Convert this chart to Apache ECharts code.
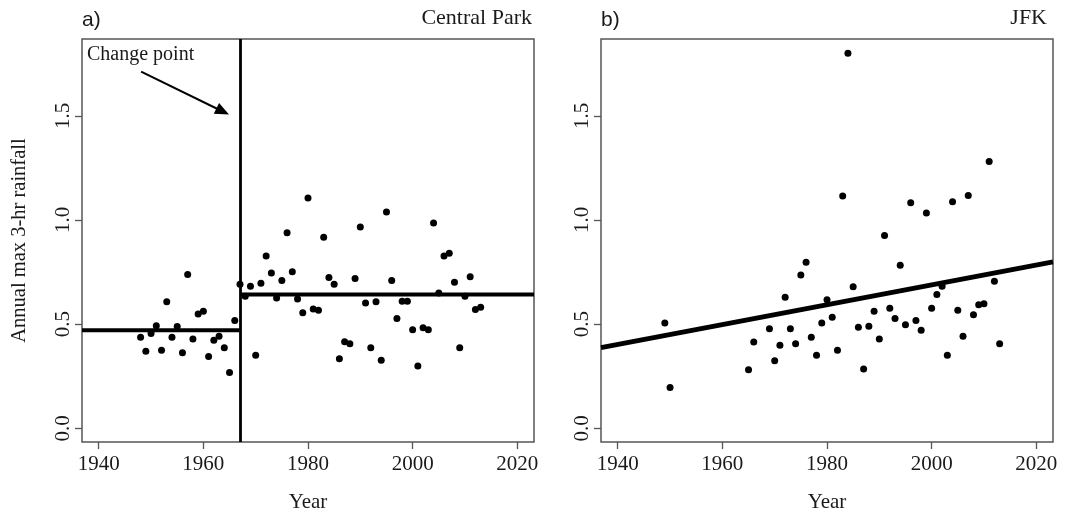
<!DOCTYPE html>
<html>
<head>
<meta charset="utf-8">
<script src="https://cdn.jsdelivr.net/npm/echarts@6/dist/echarts.min.js"></script>
<style>html,body{margin:0;padding:0;background:#fff}#c{width:1066px;height:514px}</style>
</head>
<body>
<div id="c"></div>
<script>
// ---- data ----
const cpYears = [1948,1949,1950,1951,1952,1953,1954,1955,1956,1957,1958,1959,1960,1961,1962,1963,1964,1965,1966,1967,1968,1969,1970,1971,1972,1973,1974,1975,1976,1977,1978,1979,1980,1981,1982,1983,1984,1985,1986,1987,1988,1989,1990,1991,1992,1993,1994,1995,1996,1997,1998,1999,2000,2001,2002,2003,2004,2005,2006,2007,2008,2009,2010,2011,2012,2013];
const cpValues = [0.437,0.370,0.455,0.492,0.375,0.607,0.437,0.489,0.363,0.738,0.428,0.548,0.562,0.344,0.422,0.442,0.387,0.268,0.517,0.691,0.634,0.682,0.351,0.696,0.827,0.746,0.626,0.709,0.939,0.752,0.621,0.554,1.105,0.572,0.567,0.917,0.724,0.691,0.334,0.415,0.406,0.719,0.966,0.602,0.387,0.607,0.326,1.038,0.709,0.527,0.610,0.610,0.473,0.299,0.482,0.473,0.986,0.650,0.827,0.840,0.701,0.387,0.634,0.728,0.570,0.581];
const jfkYears = [1949,1950,1965,1966,1969,1970,1971,1972,1973,1974,1975,1976,1977,1978,1979,1980,1981,1982,1983,1984,1985,1986,1987,1988,1989,1990,1991,1992,1993,1994,1995,1996,1997,1998,1999,2000,2001,2002,2003,2004,2005,2006,2007,2008,2009,2010,2011,2012,2013];
const jfkValues = [0.505,0.196,0.281,0.414,0.478,0.324,0.398,0.629,0.478,0.406,0.736,0.797,0.437,0.351,0.505,0.617,0.533,0.374,1.115,1.800,0.679,0.485,0.284,0.490,0.562,0.428,0.926,0.576,0.527,0.783,0.497,1.083,0.517,0.470,1.034,0.576,0.642,0.682,0.351,1.088,0.567,0.442,1.118,0.545,0.593,0.598,1.281,0.706,0.406];
const changeYear = 1967;
const meanBefore = 0.470;
const meanAfter = 0.642;
const xLimits = [1936.8, 2023.2];
const yLimits = [-0.066, 1.869];
const jfkTrend = [[1936.8, 0.387], [2023.2, 0.799]];
const arrowPath = [[1948.1, 1.712], [1963.7, 1.521]];
const xTicks = [1940, 1960, 1980, 2000, 2020];
const xTickLabels = ['1940', '1960', '1980', '2000', '2020'];
const yTicks = [0, 0.5, 1.0, 1.5];
const yTickLabels = ['0.0', '0.5', '1.0', '1.5'];
const panelTags = ['a)', 'b)'];
const panelNames = ['Central Park', 'JFK'];

// ---- chart ----
const SERIF = '"Liberation Serif", "DejaVu Serif", serif';
const SANS = '"Liberation Sans", Arial, sans-serif';
const AX = '#555';
const TXT = '#1a1a1a';

function xAx(i) {
  return {
    gridIndex: i, type: 'value', min: xLimits[0], max: xLimits[1], position: 'bottom',
    axisLine: { show: false, onZero: false },
    axisTick: { show: true, inside: false, length: 7, lineStyle: { color: AX, width: 1.3 }, customValues: xTicks },
    axisLabel: { customValues: xTicks, margin: 12, fontFamily: SERIF, fontSize: 21, color: TXT,
      formatter: v => xTickLabels[xTicks.indexOf(v)] },
    splitLine: { show: false },
    name: 'Year', nameLocation: 'middle', nameGap: 50,
    nameTextStyle: { fontFamily: SERIF, fontSize: 21, color: TXT }
  };
}
function yAx(i, withName) {
  return {
    gridIndex: i, type: 'value', min: yLimits[0], max: yLimits[1], position: 'left',
    axisLine: { show: false, onZero: false },
    axisTick: { show: true, inside: false, length: 7, lineStyle: { color: AX, width: 1.3 }, customValues: yTicks },
    axisLabel: { customValues: yTicks, rotate: 90, margin: 8, fontFamily: SERIF, fontSize: 21, color: TXT,
      formatter: v => yTickLabels[yTicks.indexOf(v)] },
    splitLine: { show: false },
    name: withName ? 'Annual max 3-hr rainfall' : '', nameLocation: 'middle', nameGap: 52,
    nameTextStyle: { fontFamily: SERIF, fontSize: 20.5, color: TXT }
  };
}

const chart = echarts.init(document.getElementById('c'), null, { renderer: 'canvas' });
chart.setOption({
  backgroundColor: '#fff',
  animation: false,
  title: [
    { text: panelTags[0], left: 82, top: 10, padding: 0, textStyle: { fontFamily: SANS, fontSize: 21, fontWeight: 'normal', color: TXT } },
    { text: panelNames[0], right: 534, top: 7, padding: 0, textStyle: { fontFamily: SERIF, fontSize: 22, fontWeight: 'normal', color: TXT } },
    { text: panelTags[1], left: 601, top: 10, padding: 0, textStyle: { fontFamily: SANS, fontSize: 21, fontWeight: 'normal', color: TXT } },
    { text: panelNames[1], right: 19, top: 7, padding: 0, textStyle: { fontFamily: SERIF, fontSize: 22, fontWeight: 'normal', color: TXT } },
    { text: 'Change point', left: 87, top: 45, padding: 0, textStyle: { fontFamily: SERIF, fontSize: 20, fontWeight: 'normal', color: TXT } }
  ],
  grid: [
    { left: 82, top: 39, width: 452, height: 403, show: true, borderColor: AX, borderWidth: 1.5, backgroundColor: 'transparent', containLabel: false, outerBoundsMode: 'none' },
    { left: 601, top: 39, width: 452, height: 403, show: true, borderColor: AX, borderWidth: 1.5, backgroundColor: 'transparent', containLabel: false, outerBoundsMode: 'none' }
  ],
  xAxis: [xAx(0), xAx(1)],
  yAxis: [yAx(0, true), yAx(1, false)],
  series: [
    {
      type: 'line', xAxisIndex: 0, yAxisIndex: 0, symbol: 'none', silent: true,
      data: [[xLimits[0], meanBefore], [changeYear, meanBefore]],
      lineStyle: { color: '#000', width: 4 }, z: 3,
      markLine: {
        silent: true, animation: false, symbol: ['none', 'none'],
        data: [{ xAxis: changeYear }],
        lineStyle: { color: '#000', width: 2.8, type: 'solid' },
        label: { show: false }
      }
    },
    {
      type: 'line', xAxisIndex: 0, yAxisIndex: 0, symbol: 'none', silent: true,
      data: [[changeYear, meanAfter], [xLimits[1], meanAfter]],
      lineStyle: { color: '#000', width: 4 }, z: 3,
      markLine: {
        silent: true, animation: false, symbol: ['none', 'triangle'], symbolSize: [12, 14],
        data: [[{ coord: arrowPath[0] }, { coord: arrowPath[1] }]],
        lineStyle: { color: '#000', width: 2, type: 'solid' },
        label: { show: false }
      }
    },
    {
      type: 'scatter', xAxisIndex: 0, yAxisIndex: 0, symbol: 'circle', symbolSize: 7,
      data: cpYears.map((y, i) => [y, cpValues[i]]),
      itemStyle: { color: '#000', opacity: 1 }, z: 4
    },
    {
      type: 'line', xAxisIndex: 1, yAxisIndex: 1, symbol: 'none', silent: true,
      data: jfkTrend, lineStyle: { color: '#000', width: 5 }, z: 3
    },
    {
      type: 'scatter', xAxisIndex: 1, yAxisIndex: 1, symbol: 'circle', symbolSize: 7,
      data: jfkYears.map((y, i) => [y, jfkValues[i]]),
      itemStyle: { color: '#000', opacity: 1 }, z: 4
    }
  ]
});
</script>
</body>
</html>
